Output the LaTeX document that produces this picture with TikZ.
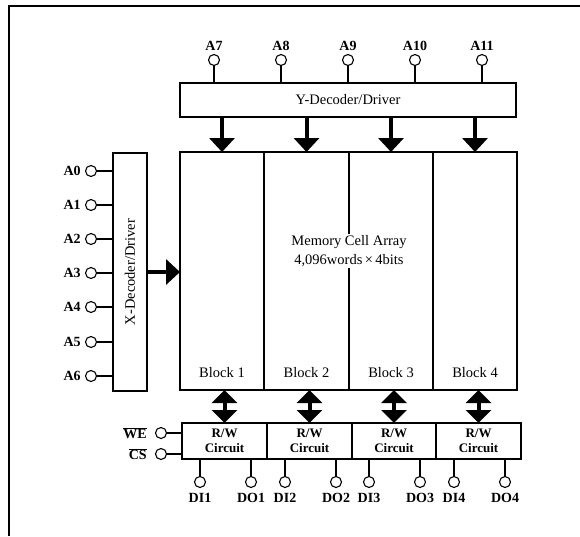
\documentclass[tikz,border=0pt]{standalone}
\usepackage{fontspec}
\setmainfont{Liberation Serif}
\usetikzlibrary{arrows.meta, positioning, calc}
\tikzset{
  unitbox/.style ={rectangle, draw=black, line width=2pt, inner sep=0pt, outer sep=0pt},
  blockbox/.style={rectangle, draw=black, line width=2pt, inner sep=0pt, outer sep=0pt,
                   minimum width=84pt, minimum height=238pt},
  rwbox/.style   ={rectangle, draw=black, line width=2pt, inner sep=0pt, outer sep=0pt,
                   minimum width=85pt, minimum height=36pt, align=center,
                   font=\bfseries\fontsize{13}{15}\selectfont},
  txt/.style     ={inner sep=1pt, align=center, font=\fontsize{14.5}{19}\selectfont},
  padc/.style    ={circle, draw=black, line width=1.1pt, fill=white, inner sep=0pt, minimum size=11pt},
  padlbl/.style  ={inner sep=1pt, font=\bfseries\fontsize{14}{15}\selectfont},
  wire/.style    ={line width=1.1pt},
  bus/.style     ={line width=4pt, -{Triangle[width=25pt,length=14pt]}},
  dbus/.style    ={line width=4pt, {Triangle[width=25pt,length=13pt]}-{Triangle[width=25pt,length=13pt]}},
}
\begin{document}
\begin{tikzpicture}[x=1pt, y=-1pt]
    \useasboundingbox (0,0) rectangle (580,536);
    \draw[line width=1.5pt] (580,6) -- (9,6) -- (9,536);
    % decoders and array
    \node[unitbox, minimum width=336pt, minimum height=34pt, font=\fontsize{14.5}{16}\selectfont] (ydec) at (348,100) {Y-Decoder/Driver};
    \node[unitbox, minimum width=34pt, minimum height=238pt] (xdec) at (130,272) {};
    \node[txt, rotate=90, font=\fontsize{14.5}{16}\selectfont] (xdl) at (xdec.center) {X-Decoder/Driver};
    \node[blockbox, anchor=north west] (blk1) at (180,152) {};
    \node[blockbox, right=0pt of blk1, minimum width=85pt] (blk2) {};
    \node[blockbox, right=0pt of blk2] (blk3) {};
    \node[blockbox, right=0pt of blk3] (blk4) {};
    \node[txt, above=11pt of blk1.south] (bl1) {Block 1};
    \node[txt, above=11pt of blk2.south] (bl2) {Block 2};
    \node[txt, above=11pt of blk3.south] (bl3) {Block 3};
    \node[txt, above=11pt of blk4.south] (bl4) {Block 4};
    \node[txt, fill=white] (mca) at (349,251) {Memory Cell Array\\4,096words\,×\,4bits};
    \node[rwbox, anchor=north west] (rw1) at (182,423) {R/W\\Circuit};
    \node[rwbox, right=0pt of rw1] (rw2) {R/W\\Circuit};
    \node[rwbox, right=0pt of rw2, minimum width=84pt] (rw3) {R/W\\Circuit};
    \node[rwbox, right=0pt of rw3] (rw4) {R/W\\Circuit};
    % Y address pins
    \node[padc] (ya7) at (214,60) {};
    \node[padc] (ya8) at (281,60) {};
    \node[padc] (ya9) at (348,60) {};
    \node[padc] (ya10) at (415,60) {};
    \node[padc] (ya11) at (482,60) {};
    \node[padlbl, above=2pt of ya7] (lya7) {A7};
    \node[padlbl, above=2pt of ya8] (lya8) {A8};
    \node[padlbl, above=2pt of ya9] (lya9) {A9};
    \node[padlbl, above=2pt of ya10] (lya10) {A10};
    \node[padlbl, above=2pt of ya11] (lya11) {A11};
    % X address pins
    \node[padc] (xa0) at (91,171) {};
    \node[padc] (xa1) at (91,205) {};
    \node[padc] (xa2) at (91,239) {};
    \node[padc] (xa3) at (91,273) {};
    \node[padc] (xa4) at (91,307) {};
    \node[padc] (xa5) at (91,342) {};
    \node[padc] (xa6) at (91,376) {};
    \node[padlbl, left=3pt of xa0] (lxa0) {A0};
    \node[padlbl, left=3pt of xa1] (lxa1) {A1};
    \node[padlbl, left=3pt of xa2] (lxa2) {A2};
    \node[padlbl, left=3pt of xa3] (lxa3) {A3};
    \node[padlbl, left=3pt of xa4] (lxa4) {A4};
    \node[padlbl, left=3pt of xa5] (lxa5) {A5};
    \node[padlbl, left=3pt of xa6] (lxa6) {A6};
    % control pins
    \node[padc] (we) at (161,433) {};
    \node[padc] (cs) at (161,454) {};
    \node[padlbl, left=7pt of we] (lwe) {$\overline{\mbox{\bfseries WE}}$};
    \node[padlbl, left=7pt of cs] (lcs) {$\overline{\mbox{\bfseries CS}}$};
    % data pins
    \node[padc] (di1) at (200,482) {};
    \node[padc] (do1) at (251,482) {};
    \node[padc] (di2) at (285,482) {};
    \node[padc] (do2) at (336,482) {};
    \node[padc] (di3) at (369,482) {};
    \node[padc] (do3) at (420,482) {};
    \node[padc] (di4) at (454,482) {};
    \node[padc] (do4) at (505,482) {};
    \node[padlbl, below=4pt of di1] (ldi1) {DI1};
    \node[padlbl, below=4pt of do1] (ldo1) {DO1};
    \node[padlbl, below=4pt of di2] (ldi2) {DI2};
    \node[padlbl, below=4pt of do2] (ldo2) {DO2};
    \node[padlbl, below=4pt of di3] (ldi3) {DI3};
    \node[padlbl, below=4pt of do3] (ldo3) {DO3};
    \node[padlbl, below=4pt of di4] (ldi4) {DI4};
    \node[padlbl, below=4pt of do4] (ldo4) {DO4};
    % wires
    \draw[wire] (ya7) -- (ya7 |- ydec.north);
    \draw[wire] (ya8) -- (ya8 |- ydec.north);
    \draw[wire] (ya9) -- (ya9 |- ydec.north);
    \draw[wire] (ya10) -- (ya10 |- ydec.north);
    \draw[wire] (ya11) -- (ya11 |- ydec.north);
    \draw[wire] (xa0) -- (xa0 -| xdec.west);
    \draw[wire] (xa1) -- (xa1 -| xdec.west);
    \draw[wire] (xa2) -- (xa2 -| xdec.west);
    \draw[wire] (xa3) -- (xa3 -| xdec.west);
    \draw[wire] (xa4) -- (xa4 -| xdec.west);
    \draw[wire] (xa5) -- (xa5 -| xdec.west);
    \draw[wire] (xa6) -- (xa6 -| xdec.west);
    \draw[wire] (we) -- (we -| rw1.west);
    \draw[wire] (cs) -- (cs -| rw1.west);
    \draw[wire] (di1) -- (di1 |- rw1.south);
    \draw[wire] (do1) -- (do1 |- rw1.south);
    \draw[wire] (di2) -- (di2 |- rw2.south);
    \draw[wire] (do2) -- (do2 |- rw2.south);
    \draw[wire] (di3) -- (di3 |- rw3.south);
    \draw[wire] (do3) -- (do3 |- rw3.south);
    \draw[wire] (di4) -- (di4 |- rw4.south);
    \draw[wire] (do4) -- (do4 |- rw4.south);
    % buses
    \draw[bus] (ydec.south -| blk1.north) -- (blk1.north);
    \draw[bus] (ydec.south -| blk2.north) -- (blk2.north);
    \draw[bus] (ydec.south -| blk3.north) -- (blk3.north);
    \draw[bus] (ydec.south -| blk4.north) -- (blk4.north);
    \draw[bus] (xdec.east) -- (xdec.east -| blk1.west);
    \draw[dbus] (blk1.south -| rw1.north) -- (rw1.north);
    \draw[dbus] (blk2.south -| rw2.north) -- (rw2.north);
    \draw[dbus] (blk3.south -| rw3.north) -- (rw3.north);
    \draw[dbus] (blk4.south -| rw4.north) -- (rw4.north);
  \end{tikzpicture}
\end{document}
